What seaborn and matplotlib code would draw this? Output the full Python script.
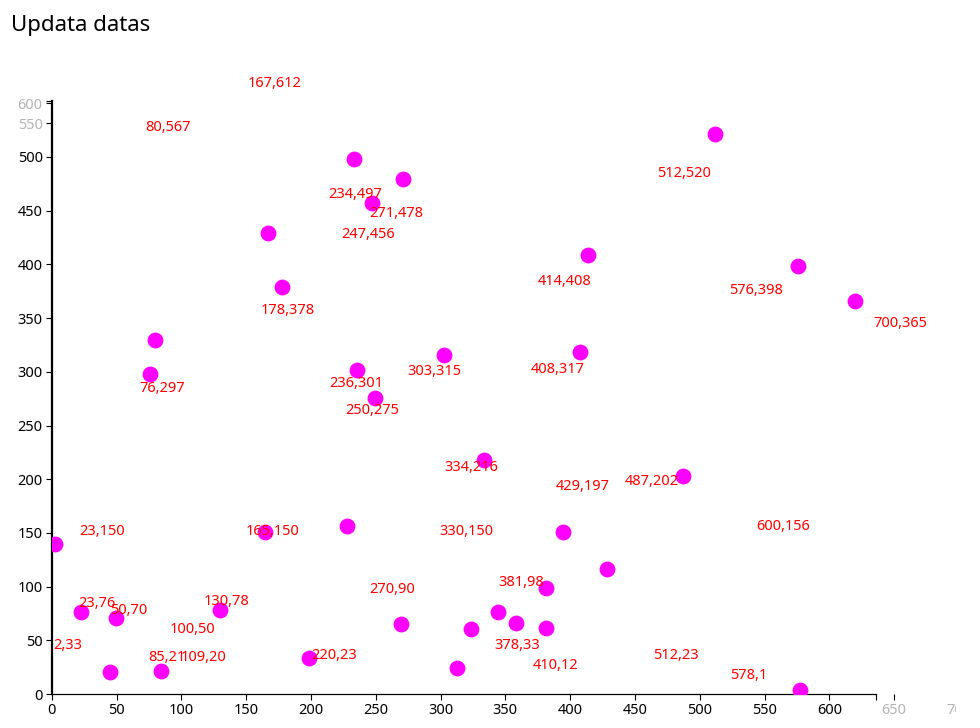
import matplotlib
matplotlib.use("Agg")
import matplotlib.pyplot as plt
import seaborn as sns
import pandas as pd
from matplotlib.transforms import Bbox, TransformedBbox

# points (snapshot of a transition, so dots and labels do not line up)
point_x = [166.7, 177.5, 79.7, 233.5, 270.8, 246.9, 413.6, 511.8, 575.6, 619.8, 75.6, 2.5,
           164.6, 302.7, 235.8, 249.7, 407.6, 333.6, 228.1, 394.3, 428.7, 486.9, 22.6, 49.6,
           129.6, 45.0, 84.6, 198.5, 269.8, 323.8, 344.4, 358.3, 381.2, 381.4, 313.0, 577.4]
point_y = [428.9, 379.2, 330.0, 498.1, 479.2, 456.9, 409.0, 521.4, 398.8, 366.2, 298.0, 139.9,
           150.8, 315.9, 302.0, 275.9, 318.2, 217.9, 156.7, 150.8, 116.4, 203.0, 76.1, 70.5,
           78.2, 20.8, 21.7, 33.8, 64.9, 60.5, 76.6, 66.4, 98.7, 61.5, 23.9, 3.7]

# label texts
label_vx = [167, 80, 178, 234, 271, 247, 414, 512, 576, 700, 76, 23, 165, 303, 236, 250, 408, 334,
            429, 487, 330, 600, 23, 50, 130, 100, 2, 85, 109, 220, 270, 381, 378, 410, 512, 578]
label_vy = [612, 567, 378, 497, 478, 456, 408, 520, 398, 365, 297, 150, 150, 315, 301, 275, 317, 216,
            197, 202, 150, 156, 76, 70, 78, 50, 33, 21, 20, 23, 90, 98, 33, 12, 23, 1]
# where the labels currently sit (data units)
label_x = [171.8, 89.5, 181.8, 234.2, 266.2, 244.3, 396.1, 487.9, 543.4, 655.1, 85.3, 38.8,
           170.2, 295.2, 235.0, 247.1, 390.4, 323.5, 409.7, 462.8, 320.2, 564.0, 34.7, 59.1,
           135.0, 108.8, 12.3, 88.7, 117.0, 217.8, 262.3, 362.6, 359.6, 388.9, 481.7, 538.0]
label_y = [568.0, 527.3, 356.9, 465.4, 447.6, 428.0, 383.9, 485.1, 375.5, 345.2, 284.3, 151.1,
           151.1, 300.5, 289.1, 263.8, 302.3, 211.1, 193.4, 198.3, 151.1, 156.4, 84.4, 78.2,
           85.9, 60.5, 45.3, 34.2, 34.2, 36.3, 97.5, 103.6, 44.7, 26.1, 36.3, 16.8]

x_ticks = [0, 50, 100, 150, 200, 250, 300, 350, 400, 450, 500, 550, 600]
x_old_ticks = [650, 700]          # fading ticks from the old scale
y_ticks = [0, 50, 100, 150, 200, 250, 300, 350, 400, 450, 500]
y_old_pos = [531.4, 550.0]        # fading ticks, mid-transition
y_old_labels = ["550", "600"]

sns.set_style("white")
plt.rcParams["font.family"] = ["Noto Sans", "DejaVu Sans"]

fig = plt.figure(figsize=(9.8, 7.28), dpi=100)
ax = fig.add_axes([51.7 / 980, 34 / 728, (980 - 51.7) / 980, 654 / 728])

df = pd.DataFrame({"x": point_x, "y": point_y})
sns.scatterplot(data=df, x="x", y="y", color="#ff00ff", s=130, linewidth=0, ax=ax, zorder=3)

for vx, vy, lx, ly in zip(label_vx, label_vy, label_x, label_y):
    ax.text(lx, ly, f"{vx},{vy}", color="red", fontsize=10.5, ha="center", va="center", zorder=4)

ax.set_xlim(0, (980 - 51.7) / 1.296)
ax.set_ylim(0, 654 / 1.074)
ax.set_xlabel("")
ax.set_ylabel("")

for s in ["top", "right"]:
    ax.spines[s].set_visible(False)
ax.spines["left"].set_bounds(0, 552)
ax.spines["left"].set_linewidth(1.6)
ax.spines["left"].set_color("black")
ax.spines["bottom"].set_bounds(0, 636)
ax.spines["bottom"].set_linewidth(0.9)
ax.spines["bottom"].set_color("black")

gray = "#b4b4b4"
xt = x_ticks + [636] + x_old_ticks
ax.set_xticks(xt)
ax.set_xticklabels([str(v) for v in x_ticks] + [""] + [str(v) for v in x_old_ticks])
yt = y_ticks + y_old_pos + [552]
ax.set_yticks(yt)
ax.set_yticklabels([str(v) for v in y_ticks] + y_old_labels + [""])
ax.tick_params(axis="both", direction="out", length=4.3, width=0.8, pad=2.2,
               labelsize=10.5, colors="black", bottom=True, left=True)

fig.canvas.draw()

# the svg is cut off on the right, around x=956px
clip = TransformedBbox(Bbox([[0, 0], [9.56, 7.28]]), fig.dpi_scale_trans)
for tick in ax.xaxis.get_major_ticks():
    if tick.get_loc() in x_old_ticks:
        tick.tick1line.set_color(gray)
        tick.label1.set_color(gray)
    tick.tick1line.set_clip_box(clip)
    tick.tick1line.set_clip_on(True)
    tick.label1.set_clip_box(clip)
    tick.label1.set_clip_on(True)
for tick in ax.yaxis.get_major_ticks():
    if tick.get_loc() in y_old_pos:
        tick.tick1line.set_color(gray)
        tick.label1.set_color(gray)

fig.text(11 / 980, 1 - 26 / 728, "Updata datas", fontsize=16, va="center", ha="left", color="black")

fig.savefig("out.png", dpi=100)
